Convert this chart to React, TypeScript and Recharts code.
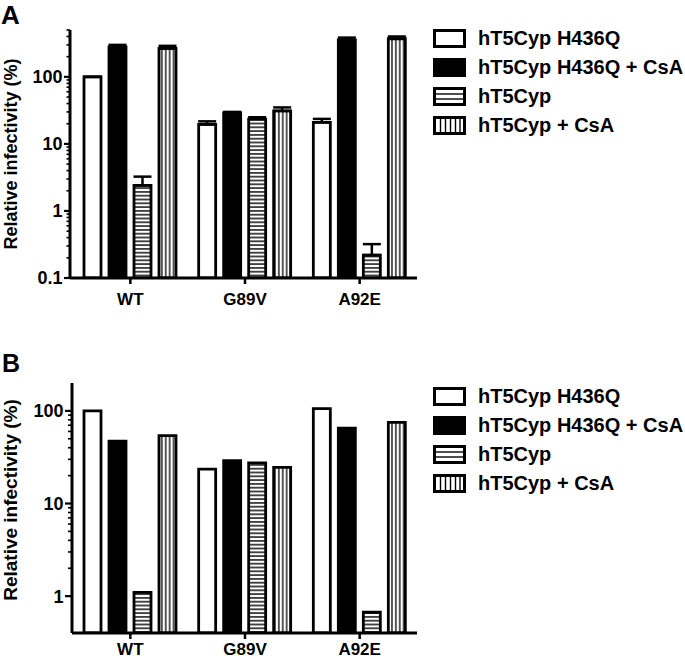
import { Bar, BarChart, ErrorBar, Label, XAxis, YAxis } from 'recharts';

const FONT = 'Arial, "Liberation Sans", Helvetica, sans-serif';

const categories = ['WT', 'G89V', 'A92E'];
const seriesNames = ['hT5Cyp H436Q', 'hT5Cyp H436Q + CsA', 'hT5Cyp', 'hT5Cyp + CsA'];

// Panel A (mean values + upper error)
const aH436Q = [100, 19.5, 21];
const aH436QErr = [0, 2.2, 2.6];
const aH436QCsA = [280, 29, 355];
const aH436QCsAErr = [20, 1, 30];
const aT5 = [2.4, 23.5, 0.22];
const aT5Err = [0.85, 1.5, 0.1];
const aT5CsA = [265, 31, 370];
const aT5CsAErr = [25, 4, 30];

// Panel B (single values)
const bH436Q = [100, 23.5, 106];
const bH436QCsA = [47, 29, 65];
const bT5 = [1.1, 27.5, 0.67];
const bT5CsA = [54, 24.5, 75];

const ticksA = [
  0.1, 0.2, 0.3, 0.4, 0.5, 0.6, 0.7, 0.8, 0.9,
  1, 2, 3, 4, 5, 6, 7, 8, 9,
  10, 20, 30, 40, 50, 60, 70, 80, 90,
  100, 200, 300, 400, 500,
];
const ticksB = [
  1, 2, 3, 4, 5, 6, 7, 8, 9,
  10, 20, 30, 40, 50, 60, 70, 80, 90,
  100,
];

const FILLS = ['#fff', '#000', 'url(#hstripe)', 'url(#vstripe)'];

const rowsA = categories.map((name, i) => ({
  name,
  v0: aH436Q[i],
  e0: [0, aH436QErr[i]],
  v1: aH436QCsA[i],
  e1: [0, aH436QCsAErr[i]],
  v2: aT5[i],
  e2: [0, aT5Err[i]],
  v3: aT5CsA[i],
  e3: [0, aT5CsAErr[i]],
}));

const rowsB = categories.map((name, i) => ({
  name,
  v0: bH436Q[i],
  v1: bH436QCsA[i],
  v2: bT5[i],
  v3: bT5CsA[i],
}));

function isMajor(v: number) {
  const l = Math.log10(v);
  return Math.abs(l - Math.round(l)) < 1e-6;
}

const makeTick = (majorLen: number, minorLen: number) => (props: any) => {
  const { x, y, payload } = props;
  const major = isMajor(payload.value);
  return (
    <g>
      <line
        x1={x - (major ? majorLen : minorLen)}
        x2={x}
        y1={y}
        y2={y}
        stroke="#000"
        strokeWidth={major ? 2.2 : 1.6}
      />
      {major && (
        <text
          x={x - majorLen - 1.5}
          y={y}
          dy="0.36em"
          textAnchor="end"
          fill="#000"
          fontFamily={FONT}
          fontSize={18}
          fontWeight="bold"
        >
          {String(payload.value)}
        </text>
      )}
    </g>
  );
};

interface PanelProps {
  rows: any[];
  domain: [number, number];
  ticks: number[];
  top: number;
  height: number;
  marginTop: number;
  axisWidth: number;
  xAxisHeight: number;
  padLeft: number;
  tickMargin: number;
  majorLen: number;
  minorLen: number;
  titleX: number;
  titleY: number;
  titleSize: number;
  withErr: boolean;
}

function Panel(p: PanelProps) {
  return (
    <div style={{ position: 'absolute', left: 0, top: p.top }}>
      <BarChart
        width={420}
        height={p.height}
        data={p.rows}
        margin={{ top: p.marginTop, right: 3, bottom: 0, left: 0 }}
        barSize={17}
        barGap={8}
      >
        <XAxis
          dataKey="name"
          height={p.xAxisHeight}
          padding={{ left: p.padLeft, right: 0 }}
          axisLine={{ stroke: '#000', strokeWidth: 3 }}
          tickLine={{ stroke: '#000', strokeWidth: 2.5 }}
          tickSize={6}
          tickMargin={p.tickMargin}
          tick={{ fill: '#000', fontSize: 17, fontWeight: 'bold', fontFamily: FONT }}
        />
        <YAxis
          type="number"
          scale="log"
          domain={p.domain}
          allowDataOverflow
          ticks={p.ticks}
          interval={0}
          width={p.axisWidth}
          axisLine={{ stroke: '#000', strokeWidth: 3 }}
          tickLine={false}
          tickSize={0}
          tickMargin={0}
          tick={makeTick(p.majorLen, p.minorLen)}
        >
          <Label
            content={() => (
              <text
                x={p.titleX}
                y={p.titleY}
                transform={`rotate(-90 ${p.titleX} ${p.titleY})`}
                textAnchor="middle"
                dominantBaseline="central"
                fill="#000"
                fontFamily={FONT}
                fontSize={p.titleSize}
                fontWeight="bold"
              >
                Relative infectivity (%)
              </text>
            )}
          />
        </YAxis>
        {seriesNames.map((s, i) => (
          <Bar
            key={s}
            name={s}
            dataKey={`v${i}`}
            fill={FILLS[i]}
            stroke="#000"
            strokeWidth={2.8}
            isAnimationActive={false}
          >
            {p.withErr && (
              <ErrorBar
                dataKey={`e${i}`}
                direction="y"
                width={9}
                stroke="#000"
                strokeWidth={2.5}
                isAnimationActive={false}
              />
            )}
          </Bar>
        ))}
      </BarChart>
    </div>
  );
}

function Swatch({ index }: { index: number }) {
  return (
    <svg width={33} height={19} style={{ display: 'block' }}>
      <rect x={1.5} y={1.5} width={30} height={16} fill={index === 1 ? '#000' : '#fff'} stroke="#000" strokeWidth={3} />
      {index === 2 &&
        [7, 12].map((yy) => <line key={yy} x1={2} x2={31} y1={yy} y2={yy} stroke="#000" strokeWidth={1.4} />)}
      {index === 3 &&
        [7.5, 12.5, 17.5, 22.5, 27].map((xx) => (
          <line key={xx} x1={xx} x2={xx} y1={2} y2={17} stroke="#000" strokeWidth={1.4} />
        ))}
    </svg>
  );
}

function LegendBlock({ rowCenters }: { rowCenters: number[] }) {
  return (
    <>
      {seriesNames.map((s, i) => (
        <div
          key={s}
          style={{
            position: 'absolute',
            left: 433,
            top: rowCenters[i] - 12,
            height: 24,
            display: 'flex',
            alignItems: 'center',
            whiteSpace: 'nowrap',
          }}
        >
          <Swatch index={i} />
          <span
            style={{
              marginLeft: 12,
              fontFamily: FONT,
              fontWeight: 'bold',
              fontSize: 20,
              color: '#000',
            }}
          >
            {s}
          </span>
        </div>
      ))}
    </>
  );
}

export default function App() {
  return (
    <div style={{ position: 'absolute', left: 0, top: 0, width: 685, height: 659, background: '#fff', overflow: 'hidden' }}>
      <svg width={0} height={0} style={{ position: 'absolute' }}>
        <defs>
          <pattern id="hstripe" patternUnits="userSpaceOnUse" width={8} height={3.8}>
            <rect width={8} height={3.8} fill="#fff" />
            <rect y={1.2} width={8} height={1.4} fill="#000" />
          </pattern>
          <pattern id="vstripe" patternUnits="userSpaceOnUse" width={3.9} height={8}>
            <rect width={3.9} height={8} fill="#fff" />
            <rect x={1.3} width={1.3} height={8} fill="#000" />
          </pattern>
        </defs>
      </svg>

      <Panel
        rows={rowsA}
        domain={[0.1, 500]}
        ticks={ticksA}
        top={0}
        height={330}
        marginTop={30}
        axisWidth={70}
        xAxisHeight={52}
        padLeft={3}
        tickMargin={9}
        majorLen={6}
        minorLen={3.5}
        titleX={11}
        titleY={154}
        titleSize={18}
        withErr
      />
      <Panel
        rows={rowsB}
        domain={[0.4, 200]}
        ticks={ticksB}
        top={330}
        height={329}
        marginTop={53}
        axisWidth={72}
        xAxisHeight={26}
        padLeft={1}
        tickMargin={4}
        majorLen={7}
        minorLen={4}
        titleX={10}
        titleY={170}
        titleSize={19}
        withErr={false}
      />

      <div style={{ position: 'absolute', left: 1, top: 0, fontFamily: FONT, fontWeight: 'bold', fontSize: 26, lineHeight: '30px' }}>A</div>
      <div style={{ position: 'absolute', left: 2, top: 348, fontFamily: FONT, fontWeight: 'bold', fontSize: 25, lineHeight: '30px' }}>B</div>

      <LegendBlock rowCenters={[38, 67, 96.5, 125.5]} />
      <LegendBlock rowCenters={[396, 425, 454, 483]} />
    </div>
  );
}
